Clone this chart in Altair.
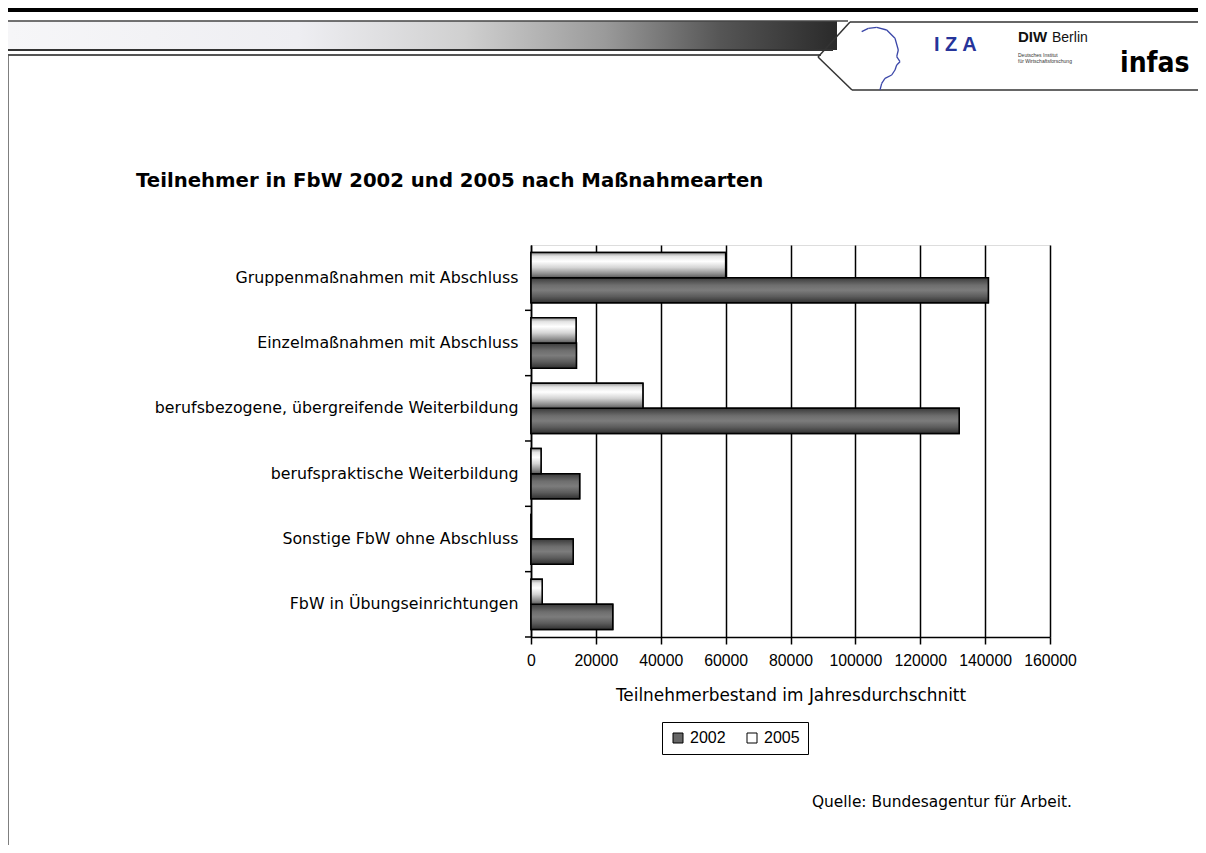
import altair as alt
import pandas as pd

# ---------------- data ----------------
categories = [
    "Gruppenmaßnahmen mit Abschluss",
    "Einzelmaßnahmen mit Abschluss",
    "berufsbezogene, übergreifende Weiterbildung",
    "berufspraktische Weiterbildung",
    "Sonstige FbW ohne Abschluss",
    "FbW in Übungseinrichtungen",
]
years = ["2002", "2005"]
v2002 = [141000, 14000, 132000, 15000, 13000, 25200]
v2005 = [60000, 13900, 34500, 3100, 0, 3450]
x_ticks = [0, 20000, 40000, 60000, 80000, 100000, 120000, 140000, 160000]

rows = []
for c, a, b in zip(categories, v2002, v2005):
    rows.append({"category": c, "year": "2002", "value": a})
    rows.append({"category": c, "year": "2005", "value": b})
df = pd.DataFrame(rows)
one = pd.DataFrame({"k": [0]})

FONT = "Liberation Sans"
WIDE = "DejaVu Sans"
W, H = 519, 392

# ---------------- encodings ----------------
y_enc = alt.Y(
    "category:N",
    sort=categories,
    scale=alt.Scale(paddingInner=0.23, paddingOuter=0.115),
    axis=alt.Axis(
        title=None, ticks=False, domainColor="black", domainWidth=1.5,
        labelColor="black", labelFont=WIDE, labelFontSize=15.8,
        labelPadding=13, labelLimit=0,
    ),
)
x_enc = alt.X(
    "value:Q",
    scale=alt.Scale(domain=[0, 160000], nice=False),
    axis=alt.Axis(
        values=x_ticks, format="d", grid=True, gridColor="black",
        gridWidth=1.5, gridOpacity=1, domainColor="black", domainWidth=1.5,
        tickColor="black", tickWidth=1.5, tickSize=7,
        labelFont=FONT, labelFontSize=15.8, labelColor="black",
        labelPadding=9, labelFlush=False, labelOverlap=False,
        title="Teilnehmerbestand im Jahresdurchschnitt",
        titleFont=WIDE, titleFontSize=16.9, titleFontWeight="normal",
        titleColor="black", titlePadding=20,
    ),
)
yoff = alt.YOffset(
    "year:N", scale=alt.Scale(domain=["2005", "2002"], paddingInner=0, paddingOuter=0)
)

base = alt.Chart(df).encode(x=x_enc, y=y_enc, yOffset=yoff)

grad_dark = alt.Gradient(
    gradient="linear", x1=0, x2=0, y1=0, y2=1,
    stops=[
        alt.GradientStop(offset=0, color="#3a3a3a"),
        alt.GradientStop(offset=0.3, color="#6e6e6e"),
        alt.GradientStop(offset=0.5, color="#7c7c7c"),
        alt.GradientStop(offset=0.75, color="#5c5c5c"),
        alt.GradientStop(offset=1, color="#303030"),
    ],
)
grad_white = alt.Gradient(
    gradient="linear", x1=0, x2=0, y1=0, y2=1,
    stops=[
        alt.GradientStop(offset=0, color="#909090"),
        alt.GradientStop(offset=0.15, color="#e4e4e4"),
        alt.GradientStop(offset=0.35, color="#ffffff"),
        alt.GradientStop(offset=0.6, color="#d4d4d4"),
        alt.GradientStop(offset=0.85, color="#8c8c8c"),
        alt.GradientStop(offset=1, color="#5a5a5a"),
    ],
)

bars_legend = base.mark_bar(stroke="black", strokeWidth=1.5).encode(
    fill=alt.Fill(
        "year:N",
        scale=alt.Scale(domain=years, range=["#666666", "#ffffff"]),
        legend=alt.Legend(
            title=None, orient="none", legendX=131, legendY=477,
            direction="horizontal", strokeColor="black", padding=8,
            symbolType="square", symbolSize=100, symbolStrokeColor="black",
            symbolStrokeWidth=1, labelFont=FONT, labelFontSize=16,
            labelColor="black", columnPadding=18, symbolOffset=0,
        ),
    )
)
bars_dark = base.transform_filter(alt.datum.year == "2002").mark_bar(
    fill=grad_dark, stroke="black", strokeWidth=1.5
)
bars_white = base.transform_filter(alt.datum.year == "2005").mark_bar(
    fill=grad_white, stroke="black", strokeWidth=1.5
)

cat_ticks = alt.Chart(pd.DataFrame({"category": categories})).mark_rule(
    color="black", strokeWidth=1.5, yOffset=7.5
).encode(
    y=alt.Y("category:N", sort=categories, bandPosition=1),
    x=alt.value(-6), x2=alt.value(0),
)

# ---------------- decorations (slide frame) ----------------
def rule(x, y, x2, y2, color="#333333", w=1.5):
    return alt.Chart(one).mark_rule(color=color, strokeWidth=w).encode(
        x=alt.value(x), y=alt.value(y), x2=alt.value(x2), y2=alt.value(y2)
    )

grad_band = alt.Gradient(
    gradient="linear", x1=0, x2=1, y1=0, y2=0,
    stops=[
        alt.GradientStop(offset=0, color="#f6f6f8"),
        alt.GradientStop(offset=0.35, color="#eeeef2"),
        alt.GradientStop(offset=0.55, color="#d0d0d0"),
        alt.GradientStop(offset=0.72, color="#9a9a9a"),
        alt.GradientStop(offset=0.86, color="#555555"),
        alt.GradientStop(offset=1, color="#2a2a2a"),
    ],
)
band = alt.Chart(one).mark_rect(fill=grad_band).encode(
    x=alt.value(-523), x2=alt.value(306), y=alt.value(-224), y2=alt.value(-195)
)
top_bar = alt.Chart(one).mark_rect(fill="black").encode(
    x=alt.value(-523), x2=alt.value(680), y=alt.value(-237), y2=alt.value(-233)
)
frame = [
    rule(-523, -224, 317, -224, "#444444", 1.5),
    rule(-523, -195, 302, -195, "#333333", 2),
    rule(-523, -190, 290, -190, "#555555", 2),
    rule(-523, -190, -523, 610, "#555555", 1.5),
    rule(319, -223, 680, -223, "#333333", 1.5),
    rule(319, -223, 287, -188, "#333333", 1.5),
    rule(287, -188, 321, -155, "#333333", 1.5),
    rule(321, -155, 680, -155, "#333333", 1.5),
]

# IZA head profile (decorative outline)
head_px = [861.7, 868.3, 876.7, 886.7, 895.0, 898.3, 896.7, 900.0, 896.7, 895.0, 891.7, 885.0, 881.7, 880.0]
head_py = [31.7, 28.3, 27.3, 30.0, 38.3, 50.0, 56.7, 61.7, 65.0, 70.0, 75.0, 78.3, 83.3, 90.0]
head = [
    rule(head_px[i] - 531, head_py[i] - 245, head_px[i + 1] - 531, head_py[i + 1] - 245, "#3a46a8", 1.3)
    for i in range(len(head_px) - 1)
]

def txt(s, x, y, size, color="black", weight="normal", font=FONT, align="left"):
    return alt.Chart(one).mark_text(
        text=s, fontSize=size, color=color, fontWeight=weight, font=font,
        align=align, baseline="alphabetic",
    ).encode(x=alt.value(x), y=alt.value(y))

logos = [
    txt("I  Z  A", 403, -194, 20, "#26349a", "bold"),
    txt("DIW", 487, -203, 15, "#111111", "bold"),
    txt("Berlin", 521, -203, 14, "#111111"),
    txt("Deutsches Institut", 487, -188, 5, "#333333"),
    txt("für Wirtschaftsforschung", 487, -182, 5, "#333333"),
    txt("infas", 589, -173, 28, "black", "bold",
        "DejaVu Sans Condensed, Liberation Sans Narrow, Liberation Sans"),
]
title = txt("Teilnehmer in FbW 2002 und 2005 nach Maßnahmearten", -395, -58, 19.7,
            "black", "bold", WIDE)
source = txt("Quelle: Bundesagentur für Arbeit.", 281, 562, 15.4, font=WIDE)

chart = alt.layer(
    top_bar, band, *frame, *head, *logos, title,
    bars_legend, bars_dark, bars_white, cat_ticks, source,
).properties(
    width=W, height=H,
    autosize=alt.AutoSizeParams(type="none"),
    padding={"left": 523, "top": 237, "right": 148, "bottom": 208},
).configure_view(stroke="black", strokeWidth=1.5).configure(background="white")

chart.save("out.html", embed_options={"renderer": "svg", "actions": False})
